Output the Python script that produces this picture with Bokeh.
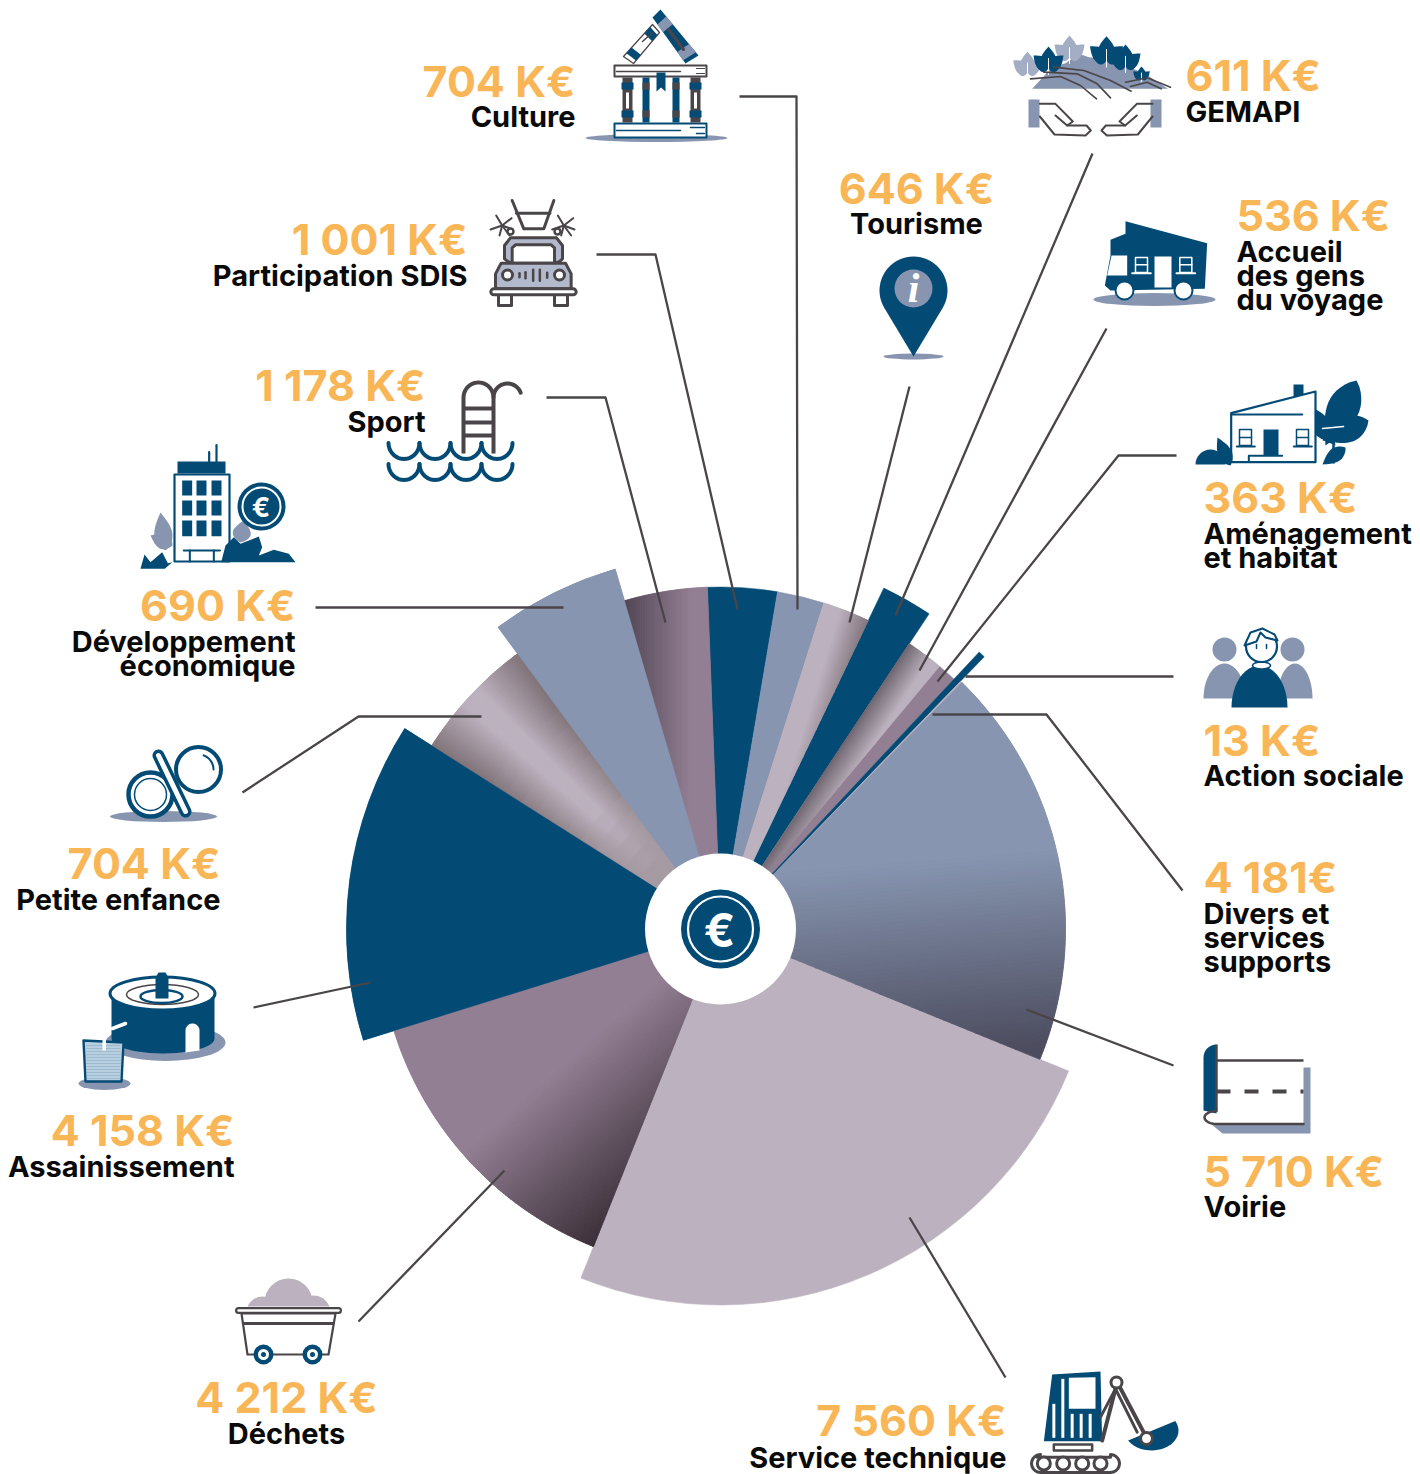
import math
from bokeh.plotting import figure
from bokeh.models import Range1d
from bokeh.core.properties import value
from bokeh.embed import file_html
from bokeh.resources import INLINE

# ---------- chart data ----------
categories = ["Voirie", "Service technique", "Déchets", "Assainissement", "Petite enfance",
              "Développement économique", "Sport", "Participation SDIS", "Culture", "Tourisme",
              "GEMAPI", "Accueil des gens du voyage", "Aménagement et habitat", "Action sociale",
              "Divers et services supports"]
amount_labels = ["5 710 K€", "7 560 K€", "4 212 K€", "4 158 K€", "704 K€", "690 K€", "1 178 K€",
                 "1 001 K€", "704 K€", "646 K€", "611 K€", "536 K€", "363 K€", "13 K€", "4 181€"]
slice_degrees = [67.8, 89.6, 50.9, 49.7, 21.2, 20.1, 14.1, 11.8, 8.0, 8.0, 7.9, 6.3, 3.25, 1.05, 0.3]
first_slice_start = 44.4

NAVY, GREY, LILAC, PURPLE = "#034B75", "#8795B0", "#BCB1BE", "#927F93"
DARK, ORANGE = "#4A4548", "#F9B657"
slice_radius = [345, 376, 342, 374, 342, 375, 342, 342, 342, 342, 378, 342, 342, 379, 345]
slice_color = [GREY, LILAC, PURPLE, NAVY, LILAC, GREY, PURPLE, NAVY, GREY, LILAC, NAVY, LILAC,
               PURPLE, NAVY, LILAC]
CX, CY, HOLE = 720, 928.5, 75.5

p = figure(width=1420, height=1474, x_range=Range1d(0, 1420), y_range=Range1d(1474, 0),
           x_axis_type=None, y_axis_type=None, toolbar_location=None, output_backend="svg",
           min_border=0, outline_line_color=None, background_fill_color="white")
p.grid.visible = False

# ---------- helpers ----------
def hexrgb(c):
    c = c.lstrip("#")
    return [int(c[i:i + 2], 16) for i in (0, 2, 4)]

def mix(a, b, t):
    t = max(0, min(1, t))
    A, B = hexrgb(a), hexrgb(b)
    return "#%02x%02x%02x" % tuple(round(A[i] + (B[i] - A[i]) * t) for i in range(3))

def pt(theta, r):
    th = math.radians(theta)
    return CX + r * math.sin(th), CY - r * math.cos(th)

def wedge_poly(t0, t1, R, r0=60):
    n = max(4, int((t1 - t0) * 1.5))
    out = [pt(t0 + (t1 - t0) * i / n, R) for i in range(n + 1)]
    inn = [pt(t1 - (t1 - t0) * i / n, r0) for i in range(n + 1)]
    return out + inn

def clip(poly, nx, ny, c, keep_gt=True):
    s = 1 if keep_gt else -1
    res = []
    for i in range(len(poly)):
        a, b = poly[i], poly[(i + 1) % len(poly)]
        da = s * (a[0] * nx + a[1] * ny - c)
        db = s * (b[0] * nx + b[1] * ny - c)
        if da >= 0:
            res.append(a)
        if da * db < 0:
            f = da / (da - db)
            res.append((a[0] + (b[0] - a[0]) * f, a[1] + (b[1] - a[1]) * f))
    return res

def linear(t0, t1, R, nx, ny, s0, s1, c0, c1, steps=40):
    poly = wedge_poly(t0, t1, R)
    ds = [q[0] * nx + q[1] * ny for q in poly]
    lo, hi = min(ds) - 1, max(ds) + 1
    cuts = [lo] + [s0 + (s1 - s0) * i / steps for i in range(steps + 1)] + [hi]
    cuts = sorted(set(max(lo, min(hi, k)) for k in cuts))
    for a, b in zip(cuts[:-1], cuts[1:]):
        q = clip(clip(poly, nx, ny, a, True), nx, ny, b, False)
        if len(q) < 3:
            continue
        col = mix(c0, c1, ((a + b) / 2 - s0) / (s1 - s0))
        p.patch([k[0] for k in q], [k[1] for k in q], fill_color=col, line_color=col, line_width=0.8)

def patch(pts, fill, line=None, w=0):
    p.patch([q[0] for q in pts], [q[1] for q in pts], fill_color=fill,
            fill_alpha=1 if fill else 0, line_color=line, line_width=w, line_join="round")

def line(pts, color=DARK, w=2, cap="round", dash=None):
    kw = {"line_dash": dash} if dash else {}
    p.line([q[0] for q in pts], [q[1] for q in pts], line_color=color, line_width=w,
           line_cap=cap, line_join="round", **kw)

def circ(x, y, r, fill=None, edge=None, w=0):
    p.circle([x], [y], radius=r, fill_color=fill, fill_alpha=1 if fill else 0,
             line_color=edge, line_width=w)

def ell(x, y, wd, h, fill=None, edge=None, w=0):
    p.ellipse([x], [y], width=wd, height=h, fill_color=fill, fill_alpha=1 if fill else 0,
              line_color=edge, line_width=w)

def rect(x0, y0, x1, y1, fill=None, edge=None, w=0):
    patch([(x0, y0), (x1, y0), (x1, y1), (x0, y1)], fill, edge, w)

def arc(x, y, rx, ry, a0, a1, n=24):
    return [(x + rx * math.cos(math.radians(a0 + (a1 - a0) * i / n)),
             y + ry * math.sin(math.radians(a0 + (a1 - a0) * i / n))) for i in range(n + 1)]

def leaf(x0, y0, x1, y1, wd, fill, n=16):
    dx, dy = x1 - x0, y1 - y0
    L = math.hypot(dx, dy)
    ux, uy = dx / L, dy / L
    a, b = [], []
    for i in range(n + 1):
        t = i / n
        h = wd / 2 * math.sin(math.pi * t ** 0.8)
        a.append((x0 + dx * t - uy * h, y0 + dy * t + ux * h))
        b.append((x0 + dx * t + uy * h, y0 + dy * t - ux * h))
    patch(a + b[::-1], fill)

def T(ox, oy, s=1 / 3):
    return lambda pts: [(ox + a * s, oy + b * s) for a, b in pts]

# ---------- pie ----------
starts = []
cur = first_slice_start
for d in slice_degrees:
    starts.append(cur)
    cur += d
for t0, d, R, col in zip(starts, slice_degrees, slice_radius, slice_color):
    p.annular_wedge(x=[CX], y=[CY], inner_radius=60, outer_radius=R,
                    start_angle=[math.radians(90 - (t0 + d))], end_angle=[math.radians(90 - t0)],
                    direction="anticlock", fill_color=col, line_color=col, line_width=0.5)

span = {c: (s, s + d, r) for c, s, d, r in zip(categories, starts, slice_degrees, slice_radius)}

# gradients seen inside some of the slices
t0, t1, R = span["Voirie"]
linear(t0, t1, R, 0.08, 1, 935, 1130, GREY, "#4C4C5E", steps=50)
t0, t1, R = span["Déchets"]
linear(t0, t1, R, 0.66, 0.75, 1171, 1325, PURPLE, "#3B2F38", steps=50)
t0, t1, R = span["Sport"]
linear(t0, t1, R, 1, 0, 622, 690, "#4F4453", PURPLE, steps=30)
t0, t1, R = span["Tourisme"]
linear(t0, t1, R, 0.957, 0.29, 981, 1012, LILAC, "#7F7279", steps=20)
t0, t1, R = span["Accueil des gens du voyage"]
linear(t0, t1, R, 0.833, 0.553, 1113, 1139, "#6F6670", LILAC, steps=18)
t0, t1, R = span["Petite enfance"]
NA, NR = 44, 16
for i in range(NA):
    for j in range(NR):
        a0 = t0 + (t1 - t0) * i / NA
        a1 = t0 + (t1 - t0) * (i + 1) / NA
        r0 = 60 + (R - 60) * j / NR
        r1 = 60 + (R - 60) * (j + 1) / NR
        f = (i + 0.5) / NA
        d = min(f, 1 - f) / 0.42
        rm = (r0 + r1) / 2
        edge = mix("#A0959B", "#807379", (rm - 120) / 160)
        col = mix(edge, LILAC, d)
        if rm < 170:
            col = mix(col, "#A69BA3", (170 - rm) / 80)
        p.annular_wedge(x=[CX], y=[CY], inner_radius=r0, outer_radius=r1,
                        start_angle=[math.radians(90 - a1)], end_angle=[math.radians(90 - a0)],
                        direction="anticlock", fill_color=col, line_color=col, line_width=1)
# re-lay neighbours' edges that the overlaps could touch
for name in ["Assainissement", "Développement économique"]:
    t0, t1, R = span[name]
    col = slice_color[categories.index(name)]
    p.annular_wedge(x=[CX], y=[CY], inner_radius=60, outer_radius=R,
                    start_angle=[math.radians(90 - t1)], end_angle=[math.radians(90 - t0)],
                    direction="anticlock", fill_color=col, line_color=col, line_width=0.3)

# hole and euro badge
circ(CX, CY, HOLE, "white")
circ(CX, CY, 39.5, NAVY)
circ(CX, CY, 32.5, NAVY, "white", 2.2)
p.text([CX - 1], [CY + 1], text=["€"], text_font=value("Inter"), text_font_style="bold",
       text_font_size="46px", text_color="white", text_align="center", text_baseline="middle")

# ---------- leader lines ----------
leaders = [
    [(739, 96), (796, 96), (797, 609)],
    [(596, 254), (655, 254), (737, 609)],
    [(546, 397), (605, 397), (665, 622)],
    [(315, 607), (563, 607)],
    [(242, 792), (358, 716), (481, 716)],
    [(253, 1007), (370, 982)],
    [(358, 1321), (504, 1170)],
    [(1005, 1377), (909, 1217)],
    [(1173, 1065), (1026, 1009)],
    [(1182, 890), (1046, 714), (932, 714)],
    [(1173, 676), (965, 676)],
    [(1176, 455), (1118, 455), (937, 681)],
    [(1106, 328), (919, 670)],
    [(1092, 153), (895, 615)],
    [(909, 386), (849, 622)],
]
for l in leaders:
    line(l, DARK, 2.3, cap="butt")

# ---------- texts ----------
FONT = "Inter"
VALUE_SIZE, LABEL_SIZE = "43px", "29px"
def amount(name, x, y, align):
    p.text([x], [y - 15.5], text=[amount_labels[categories.index(name)]], text_font=value(FONT),
           text_font_style="bold", text_font_size=VALUE_SIZE, text_color=ORANGE,
           text_align=align, text_baseline="middle")
def label(lines, x, ys, align):
    for s, y in zip(lines, ys):
        p.text([x], [y - 10.5], text=[s], text_font=value(FONT), text_font_style="bold",
               text_font_size=LABEL_SIZE, text_color="#0A0A0A", text_align=align,
               text_baseline="middle")

amount("Culture", 575, 96, "right");                     label(["Culture"], 575, [126], "right")
amount("Participation SDIS", 467, 254, "right");         label(["Participation SDIS"], 467, [285], "right")
amount("Sport", 425, 400, "right");                      label(["Sport"], 425, [431], "right")
amount("Développement économique", 295, 620, "right");   label(["Développement", "économique"], 295, [651, 675], "right")
amount("Petite enfance", 220, 878, "right");             label(["Petite enfance"], 220, [909], "right")
amount("Assainissement", 234, 1145, "right");            label(["Assainissement"], 234, [1176], "right")
amount("Déchets", 286, 1412, "center");                  label(["Déchets"], 286, [1443], "center")
amount("Service technique", 1006, 1435, "right");        label(["Service technique"], 1006, [1467], "right")
amount("Tourisme", 916, 203, "center");                  label(["Tourisme"], 916, [233], "center")
amount("GEMAPI", 1185, 90, "left");                      label(["GEMAPI"], 1185, [121], "left")
amount("Accueil des gens du voyage", 1236, 230, "left"); label(["Accueil", "des gens", "du voyage"], 1236, [261, 285, 309], "left")
amount("Aménagement et habitat", 1203, 512, "left");     label(["Aménagement", "et habitat"], 1203, [543, 567], "left")
amount("Action sociale", 1203, 755, "left");             label(["Action sociale"], 1203, [785], "left")
amount("Divers et services supports", 1203, 892, "left"); label(["Divers et", "services", "supports"], 1203, [923, 947, 971], "left")
amount("Voirie", 1203, 1186, "left");                    label(["Voirie"], 1203, [1216], "left")

# ---------- icons ----------
# Culture
ell(656, 137.5, 142, 8, GREY)
rect(614, 123, 706, 137, "white", NAVY, 2)
line([(616, 130), (680, 130)], NAVY, 1.5)
line([(690, 127), (704, 127)], NAVY, 1.5); line([(696, 133), (704, 133)], NAVY, 1.5)
rect(614, 65, 706, 76, "white", DARK, 2)
line([(616, 71), (680, 71)], DARK, 1.5)
line([(696, 68), (704, 68)], DARK, 1.2); line([(696, 73), (704, 73)], DARK, 1.2)
for cx0, cx1, base, band in [(622, 632, DARK, NAVY), (690, 700, DARK, NAVY), (642, 649, NAVY, DARK), (672, 679, NAVY, DARK)]:
    rect(cx0, 77, cx1, 122, base)
    if cx1 - cx0 > 8:
        rect(cx0 - 1, 82, cx1 + 1, 89, band); rect(cx0 - 1, 110, cx1 + 1, 117, band)
        rect(cx0 + 3.5, 92, cx1 - 3.5, 108, "white")
    else:
        rect(cx0, 82, cx1, 89, band); rect(cx0, 110, cx1, 117, band)
patch([(656, 72), (665, 72), (665, 91), (660.5, 87), (656, 91)], NAVY)
def quad(q, u0, u1, fill):
    a, b, c, d = q
    A = (a[0] + (b[0] - a[0]) * u0, a[1] + (b[1] - a[1]) * u0)
    B = (a[0] + (b[0] - a[0]) * u1, a[1] + (b[1] - a[1]) * u1)
    C = (d[0] + (c[0] - d[0]) * u1, d[1] + (c[1] - d[1]) * u1)
    D = (d[0] + (c[0] - d[0]) * u0, d[1] + (c[1] - d[1]) * u0)
    patch([A, B, C, D], fill)
roof = [(660, 9), (698, 55), (685, 63), (652, 17)]
quad(roof, 0, 1, NAVY); quad(roof, 0.15, 0.32, GREY); quad(roof, 0.75, 0.93, GREY)
line([(668, 29), (683, 49)], DARK, 3)
roof2 = [(652, 24), (623, 56), (633, 63), (659, 32)]
patch(roof2, "white", DARK, 1.2)
quad(roof2, 0.08, 0.28, NAVY); quad(roof2, 0.72, 0.9, NAVY)
line([(642, 41), (652, 32)], DARK, 1.5)

# GEMAPI
t = T(1010, 20)
patch(t([(65, 205), (125, 140), (165, 128), (205, 100), (235, 110), (300, 115), (380, 150), (420, 170), (472, 205)]), GREY)
def tree(x, y, s, col):
    leaf(x, y, x, y - 22 * s, 15 * s, col)
    leaf(x, y, x - 15 * s, y - 13 * s, 13 * s, col)
    leaf(x, y, x + 15 * s, y - 13 * s, 13 * s, col)
    leaf(x, y, x - 12 * s, y - 2 * s, 9 * s, col)
    leaf(x, y, x + 12 * s, y - 2 * s, 9 * s, col)
    line([(x, y + 6 * s), (x, y - 10 * s)], "white", 1)
tree(1069, 57, 1, "#A3AEC4"); tree(1027, 72, .95, "#A3AEC4")
tree(1048, 68, 1, NAVY); tree(1106, 60, 1.1, NAVY); tree(1125, 66, 1, NAVY); tree(1141, 78, .55, NAVY)
for c in ([(60, 175), (150, 168), (210, 195), (258, 235)], [(100, 155), (200, 160), (260, 190), (300, 232)],
          [(130, 140), (220, 150), (300, 180), (362, 212)], [(345, 185), (410, 172), (480, 200)],
          [(360, 198), (410, 185), (452, 205)]):
    line(t(c), DARK, 1.6)
rect(1028, 99, 1039, 127, GREY); rect(1150, 99, 1161, 127, GREY)
left_hand1 = [(88, 250), (135, 250), (187, 303), (170, 315), (135, 285)]
left_hand2 = [(88, 288), (132, 342), (225, 345), (241, 330), (228, 315), (170, 315)]
for c in (left_hand1, left_hand2):
    line(t(c), DARK, 2)
    line(t([(514 - a, b) for a, b in c]), DARK, 2)

# SDIS
t = T(480, 190)
line(t([(95, 30), (130, 115), (190, 115), (220, 30)]), DARK, 3)
line(t([(108, 68), (208, 68)]), DARK, 3)
for sx, sy in [(65, 105), (250, 105)]:
    for dx, dy in [(-35, 12), (-18, -30), (28, -22), (32, 12), (-8, 30), (22, 30)]:
        line(t([(sx, sy), (sx + dx, sy + dy)]), DARK, 2)
circ(510, 231, 3, "white", DARK, 2.5); circ(557, 231, 3, "white", DARK, 2.5)
patch(t([(85, 215), (72, 205), (72, 165), (90, 142), (228, 142), (246, 165), (246, 205), (235, 215)]), "#B3B9CC", DARK, 3)
patch(t([(95, 218), (95, 172), (105, 163), (212, 163), (222, 172), (222, 218)]), "white", DARK, 3)
patch(t([(45, 295), (45, 250), (62, 218), (255, 218), (272, 250), (272, 295)]), "#B3B9CC", DARK, 3)
rect(498, 292, 511, 305, "white", DARK, 3); rect(554, 292, 567, 305, "white", DARK, 3)
line(t([(40, 304), (278, 304)]), DARK, 9)
line(t([(40, 304), (278, 304)]), "white", 3)
circ(507, 274.5, 5, "white", DARK, 3); circ(559, 274.5, 5, "white", DARK, 3)
for gx, gh in [(117, 4), (135, 6), (158, 11), (178, 11), (200, 5)]:
    line(t([(gx, 254 - gh * 1.5), (gx, 254 + gh * 1.5)]), DARK, 2.5)

# Tourisme pin
ell(913, 356, 60, 6, GREY)
pin = arc(913, 290, 34, 34, 150, 390, 40)
patch(pin + [(913, 356)], NAVY)
circ(913, 288, 19, GREY)
p.text([913], [287], text=["i"], text_font=value("Liberation Serif"), text_font_style="bold italic",
       text_font_size="42px", text_color="white", text_align="center", text_baseline="middle")

# Accueil caravan
t = T(1085, 210)
ell(1154, 299, 122, 13, GREY)
patch(t([(120, 32), (365, 98), (358, 235), (75, 240), (58, 225), (75, 135), (75, 88), (120, 70)]), NAVY)
patch(t([(78, 135), (125, 135), (125, 195), (65, 195)]), "white")
rect(1154, 256, 1171, 287, "white")
for wx in (150, 283):
    rect(1085 + wx / 3, 257, 1085 + (wx + 36) / 3, 272, None, "white", 1.5)
    line(t([(wx, 163), (wx + 36, 163)]), "white", 1.5)
    line(t([(wx - 10, 188), (wx + 46, 188)]), "white", 2)
circ(1124, 290, 9, "white", NAVY, 2); circ(1183, 290, 9, "white", NAVY, 2)

# Aménagement house
t = T(1085, 210)
rect(1293, 384, 1303, 398, NAVY)
leaf(1356, 380, 1325, 445, 32, NAVY)
leaf(1368, 420, 1322, 440, 26, NAVY)
leaf(1305, 407, 1335, 445, 20, NAVY)
line([(1333, 408), (1333, 462)], NAVY, 2.5)
line([(1322, 428), (1343, 426)], "white", 1.5)
leaf(1345, 447, 1322, 464, 14, NAVY)
patch(t([(437, 755), (437, 608), (690, 543), (690, 755)]), "white", NAVY, 2.2)
line(t([(440, 612), (650, 612)]), NAVY, 2.2)
rect(1263, 429, 1278, 455, NAVY)
for wx in (462, 633):
    rect(1085 + wx / 3, 429, 1085 + (wx + 36) / 3, 445, None, NAVY, 1.5)
    line(t([(wx, 681), (wx + 36, 681)]), NAVY, 1.5)
    line(t([(wx - 8, 708), (wx + 46, 708)]), NAVY, 2)
line(t([(490, 752), (490, 736), (590, 736)]), NAVY, 2)
leaf(1230, 465, 1217, 437, 14, NAVY)
patch(arc(1210, 464, 15, 15, 180, 360, 16), NAVY)

# Sport
line([(463, 453), (463, 397)] + arc(478, 397, 15, 15, 180, 360) + [(493, 453)], DARK, 4, cap="butt")
line([(493, 397)] + arc(507, 397, 14, 14, 180, 340), DARK, 4)
for ry in (408, 422, 435):
    line([(463, ry), (493, ry)], DARK, 4, cap="butt")
for wy in (442.5, 463.5):
    for k in range(4):
        a = 388 + k * 31
        line(arc(a + 15.5, wy, 15.5, 16, 180, 0), NAVY, 4)

# Développement économique
t = T(130, 370)
leaf(165, 550, 160, 512, 18, GREY); leaf(172, 545, 150, 535, 16, GREY)
leaf(240, 542, 243, 520, 18, GREY)
rect(174, 474, 229, 561, "white", NAVY, 2.2)
rect(177, 461, 225, 473, NAVY)
line(t([(258, 272), (258, 224)]), NAVY, 2.2); line(t([(236, 272), (236, 245)]), NAVY, 2.2)
for wy0, wy1 in [(330, 375), (390, 435), (450, 497)]:
    for wx0, wx1 in [(155, 185), (198, 228), (243, 273)]:
        rect(130 + wx0 / 3, 370 + wy0 / 3, 130 + wx1 / 3, 370 + wy1 / 3, NAVY)
line(t([(160, 540), (268, 540)]), NAVY, 2.2)
line(t([(178, 540), (178, 573)]), NAVY, 2); line(t([(250, 540), (250, 573)]), NAVY, 2)
patch(t([(272, 575), (285, 525), (310, 500), (330, 520), (385, 498), (395, 530), (385, 555), (430, 538), (475, 550), (495, 575)]), NAVY)
patch(t([(30, 595), (42, 552), (60, 575), (95, 545), (112, 578), (125, 575), (103, 595)]), NAVY)
circ(261, 506, 24, NAVY)
circ(261, 506, 19, NAVY, "white", 2)
p.text([260.5], [507], text=["€"], text_font=value("Inter"), text_font_style="bold", text_font_size="27px",
       text_color="white", text_align="center", text_baseline="middle")

# Petite enfance
ell(163, 816, 107, 11, GREY)
circ(198, 769, 22.5, "white", NAVY, 4)
line(arc(198, 769, 15, 15, -70, 0, 8), NAVY, 2)
circ(150, 794, 22, "white", NAVY, 4.5)
circ(150, 794, 16, "white", NAVY, 1.5)
line([(158, 755), (185, 811)], NAVY, 12)
line([(158, 755), (185, 811)], "white", 5)

# Assainissement
ell(165, 1042, 120, 37, GREY)
patch([(111, 993), (214, 993), (214, 1038)] + arc(162.5, 1038, 51.5, 15, 0, 180, 24) + [(111, 993)], NAVY)
ell(162, 993, 105, 33, "white", NAVY, 3)
ell(162, 994, 72, 20, None, DARK, 1.5)
ell(161, 996, 42, 13, "white", NAVY, 2.5)
patch([(155, 977), (158, 972), (165, 972), (168, 977), (168, 998), (155, 998)], NAVY)
patch([(185, 1052), (185, 1030)] + arc(192, 1030, 7, 7, 180, 360, 10) + [(199, 1050)], "white")
line([(112, 1028), (125, 1023)], "white", 3.5)
ell(104, 1083, 52, 13, GREY)
patch([(83, 1040), (123, 1042), (121, 1081), (85, 1081)], "#B7CFDF", NAVY, 2.4)
for wy in range(1045, 1080, 3):
    line([(86, wy), (120, wy)], "#8FAFC8", 0.7, cap="butt")
rect(102, 1035, 105.5, 1050, "white")

# Voirie
patch([(1303, 1067), (1310, 1067), (1310, 1133), (1222, 1133), (1210, 1123), (1303, 1123)], GREY)
patch([(1203, 1110), (1203, 1055)] + arc(1216, 1057, 13, 13, 180, 270, 8) + [(1216, 1113)], NAVY)
line([(1216, 1060), (1303, 1060)], DARK, 2.5, cap="butt")
line([(1216, 1044), (1216, 1110)], DARK, 2.5, cap="butt")
line([(1216, 1091), (1303, 1091)], DARK, 4, cap="butt", dash="14 14")
line([(1216, 1110)] + arc(1216, 1117, 12, 6.5, 270, 90, 12) + [(1303, 1123.5)], DARK, 2.5)

# Action sociale
for bx in (1224, 1292):
    circ(bx, 649, 12, GREY)
patch(arc(1224, 698, 21, 35, 180, 360), GREY)
patch(arc(1294.5, 698, 17.5, 35, 180, 360), GREY)
patch(arc(1259, 707, 28, 42, 180, 360), NAVY)
ell(1261, 665, 18, 7, "white", NAVY, 1.6)
circ(1261, 646, 15.5, "white", NAVY, 2.2)
patch([(1244, 645), (1250, 632), (1262, 628), (1274, 634), (1277, 640), (1265, 637), (1260, 632), (1256, 641)], "white", NAVY, 2)
line([(1256, 644), (1256, 648)], NAVY, 1.5); line([(1266, 644), (1266, 648)], NAVY, 1.5)

# Déchets
circ(288, 1302, 24, LILAC); circ(262, 1312, 16, LILAC); circ(313, 1312, 17, LILAC)
rect(241, 1306, 335, 1320, "white")
patch([(241, 1313), (335, 1313), (328, 1354), (247, 1354)], "white", DARK, 2.2)
line([(242, 1323), (333, 1323)], DARK, 3, cap="butt")
line([(238, 1310), (338, 1310)], DARK, 7)
line([(238, 1310), (338, 1310)], "white", 2.5)
for wx in (263, 312):
    circ(wx, 1354, 10, NAVY); circ(wx, 1354, 5.5, "white"); circ(wx, 1354, 2.5, NAVY)

# Service technique
t = T(1020, 1360)
patch(t([(95, 42), (240, 33), (245, 242), (70, 242)]), NAVY)
patch(t([(145, 52), (225, 50), (225, 145), (145, 145)]), "white")
for sx0, sy0 in [(127, 55), (100, 130), (155, 160), (182, 160), (209, 160)]:
    line(t([(sx0, sy0), (sx0, 232)]), "white", 3, cap="butt")
patch(t([(100, 252), (215, 252), (215, 270), (100, 270)]), "white", DARK, 2.5)
line(t([(245, 240), (290, 65), (380, 235)]), DARK, 4)
line(t([(240, 170), (285, 85), (350, 215)]), DARK, 3)
patch(arc(1151, 1430, 27, 20, -28, 150, 20), NAVY)
circ(1116, 1382, 5.5, "white", DARK, 3)
circ(1146, 1438, 6, "white", DARK, 3)
line(t([(50, 290), (270, 290)]) + arc(1110, 1463, 9, 9, -90, 90, 10) + [(1040, 1472)] + arc(1040, 1463, 9, 9, 90, 270, 10), DARK, 3)
for wx in (70, 128, 185, 240):
    circ(1020 + wx / 3, 1463, 6.5, "white", DARK, 3)

open("out.html", "w").write(file_html(p, INLINE))
